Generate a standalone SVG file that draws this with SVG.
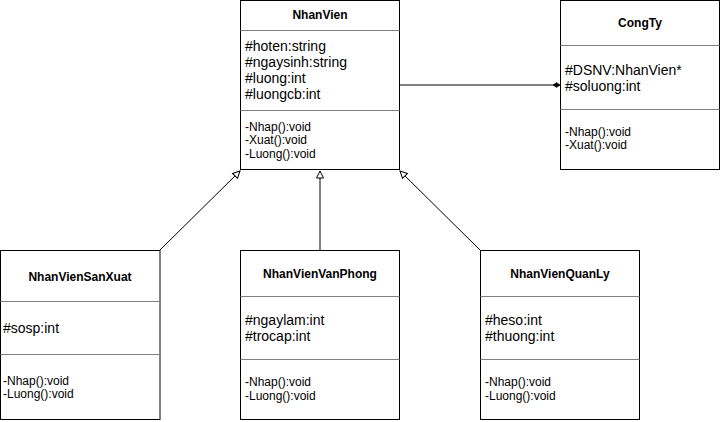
<svg xmlns="http://www.w3.org/2000/svg" width="721" height="422" viewBox="0 0 721 422">
<style>
.box{fill:#fff;stroke:#000;stroke-width:1}
.div{stroke:#808080;stroke-width:1}
.t{font-family:"Liberation Sans",Arial,sans-serif;font-size:12px;font-weight:bold;text-anchor:middle;fill:#000}
.a{font-family:"Liberation Sans",Arial,sans-serif;font-size:14px;fill:#000}
.m{font-family:"Liberation Sans",Arial,sans-serif;font-size:12px;fill:#000}
.ln{stroke:#000;stroke-width:1;fill:none}
</style>
<defs>
<marker id="tri" markerUnits="userSpaceOnUse" markerWidth="12" markerHeight="12" viewBox="-10 -6 12 12" refX="0" refY="0" orient="auto">
<path d="M0,0 L-7,-3.5 L-7,3.5 Z" fill="#fff" stroke="#000" stroke-width="1"/>
</marker>
<marker id="dia" markerUnits="userSpaceOnUse" markerWidth="10" markerHeight="8" viewBox="-9 -4 10 8" refX="0" refY="0" orient="auto">
<path d="M0,0 L-3.5,-2.5 L-7,0 L-3.5,2.5 Z" fill="#000" stroke="#000" stroke-width="0.5"/>
</marker>
</defs>
<g id="connectors">
<line class="ln" x1="400" y1="85" x2="560" y2="85" marker-end="url(#dia)"/>
<line class="ln" x1="160" y1="250" x2="240" y2="171" marker-end="url(#tri)"/>
<line class="ln" x1="320" y1="250" x2="320" y2="171" marker-end="url(#tri)"/>
<line class="ln" x1="480" y1="250" x2="400" y2="171" marker-end="url(#tri)"/>
</g>
<g id="NhanVien">
<rect class="box" x="240.5" y="0.5" width="159" height="169"/>
<line class="div" x1="240.5" y1="30.5" x2="399.5" y2="30.5"/>
<line class="div" x1="240.5" y1="110.5" x2="399.5" y2="110.5"/>
<text class="t" x="320" y="19">NhanVien</text>
<text class="a" x="245" y="50.5">#hoten:string</text>
<text class="a" x="245" y="66.5">#ngaysinh:string</text>
<text class="a" x="245" y="82.5">#luong:int</text>
<text class="a" x="245" y="98.5">#luongcb:int</text>
<text class="m" x="245" y="130.5">-Nhap():void</text>
<text class="m" x="245" y="144">-Xuat():void</text>
<text class="m" x="245" y="157.5">-Luong():void</text>
</g>
<g id="CongTy">
<rect class="box" x="560.5" y="0.5" width="159" height="169"/>
<line class="div" x1="560.5" y1="45.5" x2="719.5" y2="45.5"/>
<line class="div" x1="560.5" y1="109.5" x2="719.5" y2="109.5"/>
<text class="t" x="640" y="27">CongTy</text>
<text class="a" x="565" y="74.5">#DSNV:NhanVien*</text>
<text class="a" x="565" y="90.5">#soluong:int</text>
<text class="m" x="565" y="135.5">-Nhap():void</text>
<text class="m" x="565" y="149">-Xuat():void</text>
</g>
<g id="NhanVienSanXuat">
<rect class="box" x="0.5" y="250.5" width="159.5" height="169"/>
<line class="div" x1="0.5" y1="301.5" x2="160" y2="301.5"/>
<line class="div" x1="0.5" y1="354.5" x2="160" y2="354.5"/>
<text class="t" x="80" y="281">NhanVienSanXuat</text>
<text class="a" x="3" y="333">#sosp:int</text>
<text class="m" x="3" y="384.5">-Nhap():void</text>
<text class="m" x="3" y="398">-Luong():void</text>
</g>
<g id="NhanVienVanPhong">
<rect class="box" x="240.5" y="250.5" width="159" height="169"/>
<line class="div" x1="240.5" y1="296.5" x2="399.5" y2="296.5"/>
<line class="div" x1="240.5" y1="359.5" x2="399.5" y2="359.5"/>
<text class="t" x="320" y="277.5">NhanVienVanPhong</text>
<text class="a" x="245" y="324.5">#ngaylam:int</text>
<text class="a" x="245" y="340.5">#trocap:int</text>
<text class="m" x="245" y="385.5">-Nhap():void</text>
<text class="m" x="245" y="399.5">-Luong():void</text>
</g>
<g id="NhanVienQuanLy">
<rect class="box" x="480.5" y="250.5" width="159" height="169"/>
<line class="div" x1="480.5" y1="296.5" x2="639.5" y2="296.5"/>
<line class="div" x1="480.5" y1="359.5" x2="639.5" y2="359.5"/>
<text class="t" x="560" y="277.5">NhanVienQuanLy</text>
<text class="a" x="485" y="324.5">#heso:int</text>
<text class="a" x="485" y="340.5">#thuong:int</text>
<text class="m" x="485" y="385.5">-Nhap():void</text>
<text class="m" x="485" y="399.5">-Luong():void</text>
</g>
</svg>
